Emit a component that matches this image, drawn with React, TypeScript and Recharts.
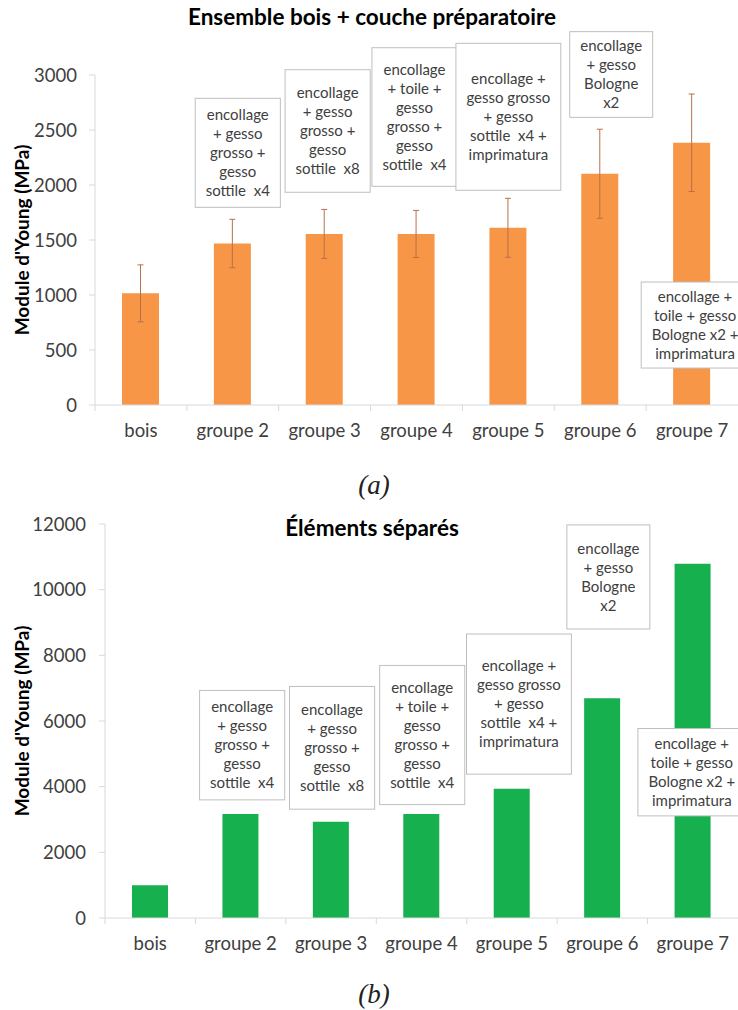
import React from 'react';
import { BarChart, Bar, XAxis, YAxis, ErrorBar, ReferenceArea, Label } from 'recharts';

const CATEGORIES = ['bois', 'groupe 2', 'groupe 3', 'groupe 4', 'groupe 5', 'groupe 6', 'groupe 7'];
const MODULE_A = [1015, 1468, 1555, 1555, 1611, 2102, 2384];
const ERROR_A = [259, 220, 223, 214, 268, 405, 443];
const MODULE_B = [1000, 3170, 2930, 3170, 3940, 6690, 10790];
const TICKS_A = [0, 500, 1000, 1500, 2000, 2500, 3000];
const TICKS_B = [0, 2000, 4000, 6000, 8000, 10000, 12000];

const TITLE_A = 'Ensemble bois + couche préparatoire';
const TITLE_B = 'Éléments séparés';
const Y_LABEL = "Module d'Young (MPa)";

const NOTE_CATEGORIES = ['groupe 2', 'groupe 3', 'groupe 4', 'groupe 5', 'groupe 6', 'groupe 7'];
const NOTE_LINES = [
  ['encollage', '+ gesso', 'grosso +', 'gesso', 'sottile  x4'],
  ['encollage', '+ gesso', 'grosso +', 'gesso', 'sottile  x8'],
  ['encollage', '+ toile +', 'gesso', 'grosso +', 'gesso', 'sottile  x4'],
  ['encollage +', 'gesso grosso', '+ gesso', 'sottile  x4 +', 'imprimatura'],
  ['encollage', '+ gesso', 'Bologne', 'x2'],
  ['encollage +', 'toile + gesso', 'Bologne x2 +', 'imprimatura'],
];
// vertical extent of each note box, in axis units
const NOTE_LOW_A = [1797, 1934, 1988, 1952, 2615, 336];
const NOTE_HIGH_A = [2788, 3048, 3248, 3288, 3394, 1118];
const NOTE_LOW_B = [3598, 3314, 3454, 4381, 8802, 3110];
const NOTE_HIGH_B = [6930, 7052, 7692, 8649, 11972, 5771];

// layout-only horizontal nudges of the note boxes (px)
const NOTE_SHIFT_A = [5, 3, -2, 0, 11, 3];
const NOTE_SHIFT_B = [1.5, 1, 0.7, 7, 6, -1];

const FONT = 'Lato, "Open Sans", sans-serif';
const TEXT = '#404040';
const GRID = '#d9d9d9';
const NOTE_FONT_SIZE = 15;

const dataA = CATEGORIES.map((c, i) => ({ name: c, value: MODULE_A[i], err: ERROR_A[i] }));
const dataB = CATEGORIES.map((c, i) => ({ name: c, value: MODULE_B[i] }));

let ctx: CanvasRenderingContext2D | null = null;
function measure(s: string): number {
  if (!ctx) {
    const c = document.createElement('canvas');
    ctx = c.getContext('2d');
  }
  if (!ctx) return s.length * 7;
  ctx.font = `${NOTE_FONT_SIZE}px Lato`;
  return ctx.measureText(s).width;
}

function NoteBox(props: any) {
  const { x, y, width, height, lines, shift } = props;
  const cx = x + width / 2 + shift;
  const w = Math.max(...lines.map((l: string) => measure(l))) + 21;
  const cy = y + height / 2;
  const lh = 19;
  const top0 = cy - ((lines.length - 1) * lh) / 2;
  return (
    <g>
      <rect x={cx - w / 2} y={y} width={w} height={height} fill="#ffffff" stroke="#bfbfbf" strokeWidth={1} />
      {lines.map((l: string, i: number) => (
        <text
          key={i}
          x={cx}
          y={top0 + i * lh}
          dy="0.35em"
          textAnchor="middle"
          fontFamily={FONT}
          fontSize={NOTE_FONT_SIZE}
          fill={TEXT}
          style={{ whiteSpace: 'pre' }}
        >
          {l}
        </text>
      ))}
    </g>
  );
}

function makeXTick(bandWidth: number) {
  return (props: any) => {
    const { x, y, payload } = props;
    const bx = x - bandWidth / 2;
    return (
      <g>
        <line x1={bx} y1={y} x2={bx} y2={y + 6} stroke={GRID} strokeWidth={1} />
        <text x={x} y={y + 32} textAnchor="middle" fontFamily={FONT} fontSize={18.5} fill={TEXT}>
          {payload.value}
        </text>
      </g>
    );
  };
}

function YTitle(props: any) {
  const vb = props.viewBox || {};
  const cx = (vb.x || 0) + 22.5;
  const cy = (vb.y || 0) + (vb.height || 0) / 2;
  return (
    <text
      x={cx}
      y={cy}
      transform={`rotate(-90, ${cx}, ${cy})`}
      textAnchor="middle"
      dy="0.35em"
      fontFamily={FONT}
      fontWeight="bold"
      fontSize={19}
      fill="#000"
    >
      {Y_LABEL}
    </text>
  );
}

const titleStyle: React.CSSProperties = {
  position: 'absolute',
  left: 0,
  width: 744,
  textAlign: 'center',
  fontFamily: FONT,
  fontWeight: 'bold',
  fontSize: 22.5,
  lineHeight: '26px',
  color: '#000',
};
const captionStyle: React.CSSProperties = {
  position: 'absolute',
  left: 0,
  width: 748,
  textAlign: 'center',
  fontFamily: '"Liberation Serif", serif',
  fontStyle: 'italic',
  fontSize: 27,
  lineHeight: '30px',
  color: '#222',
};

export default function App() {
  const wA = 738, hA = 470, yAxisWA = 95;
  const bwA = (wA - yAxisWA) / CATEGORIES.length;
  const wB = 738, hB = 480, yAxisWB = 105;
  const bwB = (wB - yAxisWB) / CATEGORIES.length;
  return (
    <div style={{ position: 'absolute', left: 0, top: 0, width: 738, height: 1010, background: '#fff', overflow: 'hidden' }}>
      <div style={{ position: 'absolute', left: 0, top: 0 }}>
        <BarChart width={wA} height={hA} data={dataA} margin={{ top: 75, right: 0, bottom: 25, left: 0 }}>
          <XAxis
            dataKey="name"
            height={40}
            axisLine={{ stroke: GRID }}
            tickLine={false}
            tickSize={0}
            tickMargin={0}
            interval={0}
            tick={makeXTick(bwA)}
          />
          <YAxis
            width={yAxisWA}
            domain={[0, 3000]}
            ticks={TICKS_A}
            interval={0}
            axisLine={{ stroke: GRID }}
            tickLine={{ stroke: GRID }}
            tickSize={6}
            tickMargin={12}
            tick={{ fontFamily: FONT, fontSize: 18.5, fill: TEXT }}
          >
            <Label content={YTitle} />
          </YAxis>
          <Bar dataKey="value" fill="#F79646" barSize={37} isAnimationActive={false}>
            <ErrorBar dataKey="err" width={3} stroke="#B7714A" strokeWidth={1} direction="y" />
          </Bar>
          {NOTE_CATEGORIES.map((c, i) => (
            <ReferenceArea
              key={c}
              x1={c}
              x2={c}
              y1={NOTE_LOW_A[i]}
              y2={NOTE_HIGH_A[i]}
              ifOverflow="visible"
              zIndex={2000}
              shape={(p: any) => <NoteBox {...p} lines={NOTE_LINES[i]} shift={NOTE_SHIFT_A[i]} />}
            />
          ))}
        </BarChart>
      </div>
      <div style={{ ...titleStyle, top: 4 }}>{TITLE_A}</div>
      <div style={{ ...captionStyle, top: 470 }}>(a)</div>

      <div style={{ position: 'absolute', left: 0, top: 500 }}>
        <BarChart width={wB} height={hB} data={dataB} margin={{ top: 24, right: 0, bottom: 22, left: 0 }}>
          <XAxis
            dataKey="name"
            height={40}
            axisLine={{ stroke: GRID }}
            tickLine={false}
            tickSize={0}
            tickMargin={0}
            interval={0}
            tick={makeXTick(bwB)}
          />
          <YAxis
            width={yAxisWB}
            domain={[0, 12000]}
            ticks={TICKS_B}
            interval={0}
            axisLine={{ stroke: GRID }}
            tickLine={{ stroke: GRID }}
            tickSize={6}
            tickMargin={13}
            tick={{ fontFamily: FONT, fontSize: 18.5, fill: TEXT }}
          >
            <Label content={YTitle} />
          </YAxis>
          <Bar dataKey="value" fill="#16B04F" barSize={36} isAnimationActive={false} />
          {NOTE_CATEGORIES.map((c, i) => (
            <ReferenceArea
              key={c}
              x1={c}
              x2={c}
              y1={NOTE_LOW_B[i]}
              y2={NOTE_HIGH_B[i]}
              ifOverflow="visible"
              zIndex={2000}
              shape={(p: any) => <NoteBox {...p} lines={NOTE_LINES[i]} shift={NOTE_SHIFT_B[i]} />}
            />
          ))}
        </BarChart>
      </div>
      <div style={{ ...titleStyle, top: 515 }}>{TITLE_B}</div>
      <div style={{ ...captionStyle, top: 979 }}>(b)</div>
    </div>
  );
}
